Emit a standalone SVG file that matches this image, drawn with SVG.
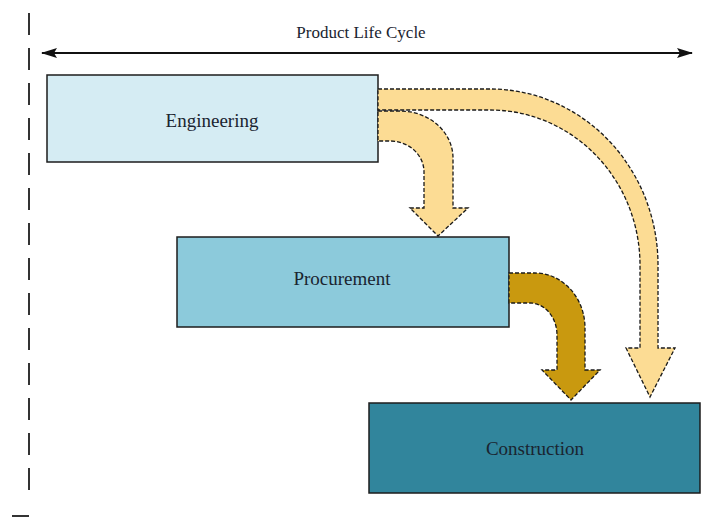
<svg xmlns="http://www.w3.org/2000/svg" width="701" height="531" viewBox="0 0 701 531">
<style>
.box{stroke:#1c1c1c;stroke-width:1.5}
.lbl{font-family:"Liberation Serif","Times New Roman",serif;font-size:19px;fill:#1a2430;text-anchor:middle}
.flow{stroke:#1a1a1a;stroke-width:1.3;stroke-dasharray:4 2;stroke-linejoin:miter}
.light{fill:#fcdc94}
.dark{fill:#c9990f}
</style>
<defs>
<marker id="ah" viewBox="0 0 16 10" refX="15" refY="5" markerWidth="16" markerHeight="10" markerUnits="userSpaceOnUse" orient="auto-start-reverse">
<path d="M0,0 L16,5 L0,10 L3,5 Z" fill="#111"/>
</marker>
</defs>
<g id="timeline">
<line x1="29" y1="13" x2="29" y2="500" stroke="#333" stroke-width="2" stroke-dasharray="22 13"/>
<line x1="12" y1="516" x2="29" y2="516" stroke="#333" stroke-width="2"/>
<line x1="42" y1="53" x2="692" y2="53" stroke="#111" stroke-width="2" marker-start="url(#ah)" marker-end="url(#ah)"/>
<text x="361" y="38" class="lbl" style="font-size:17px">Product Life Cycle</text>
</g>
<g id="engineering">
<rect x="47" y="75" width="331" height="87" fill="#d5ecf3" class="box"/>
<text x="212" y="127" class="lbl">Engineering</text>
</g>
<g id="procurement">
<rect x="177" y="237" width="332" height="90" fill="#8ccadb" class="box"/>
<text x="342" y="285" class="lbl">Procurement</text>
</g>
<g id="construction">
<rect x="369" y="403" width="331" height="90" fill="#31859c" class="box"/>
<text x="535" y="455" class="lbl">Construction</text>
</g>
<g id="connectors">
<path class="light flow" d="M378,89 L490,89 A168,176 0 0 1 658,265 L658,348 L675,348 L650,397 L626,348 L640,348 L640,265 A150,155 0 0 0 490,110 L378,110 Z"/>
<path class="light flow" d="M378,111 L400,111 A53,47 0 0 1 453,158 L453,208 L468,208 L438,236 L410,208 L424,208 L424,172 A34,31 0 0 0 390,141 L378,141 Z"/>
<path class="dark flow" d="M509,273 L535,273 A50,55 0 0 1 585,328 L585,370 L600,370 L571,400 L542,370 L557,370 L557,335 A27,32 0 0 0 530,303 L509,303 Z"/>
</g>
</svg>
